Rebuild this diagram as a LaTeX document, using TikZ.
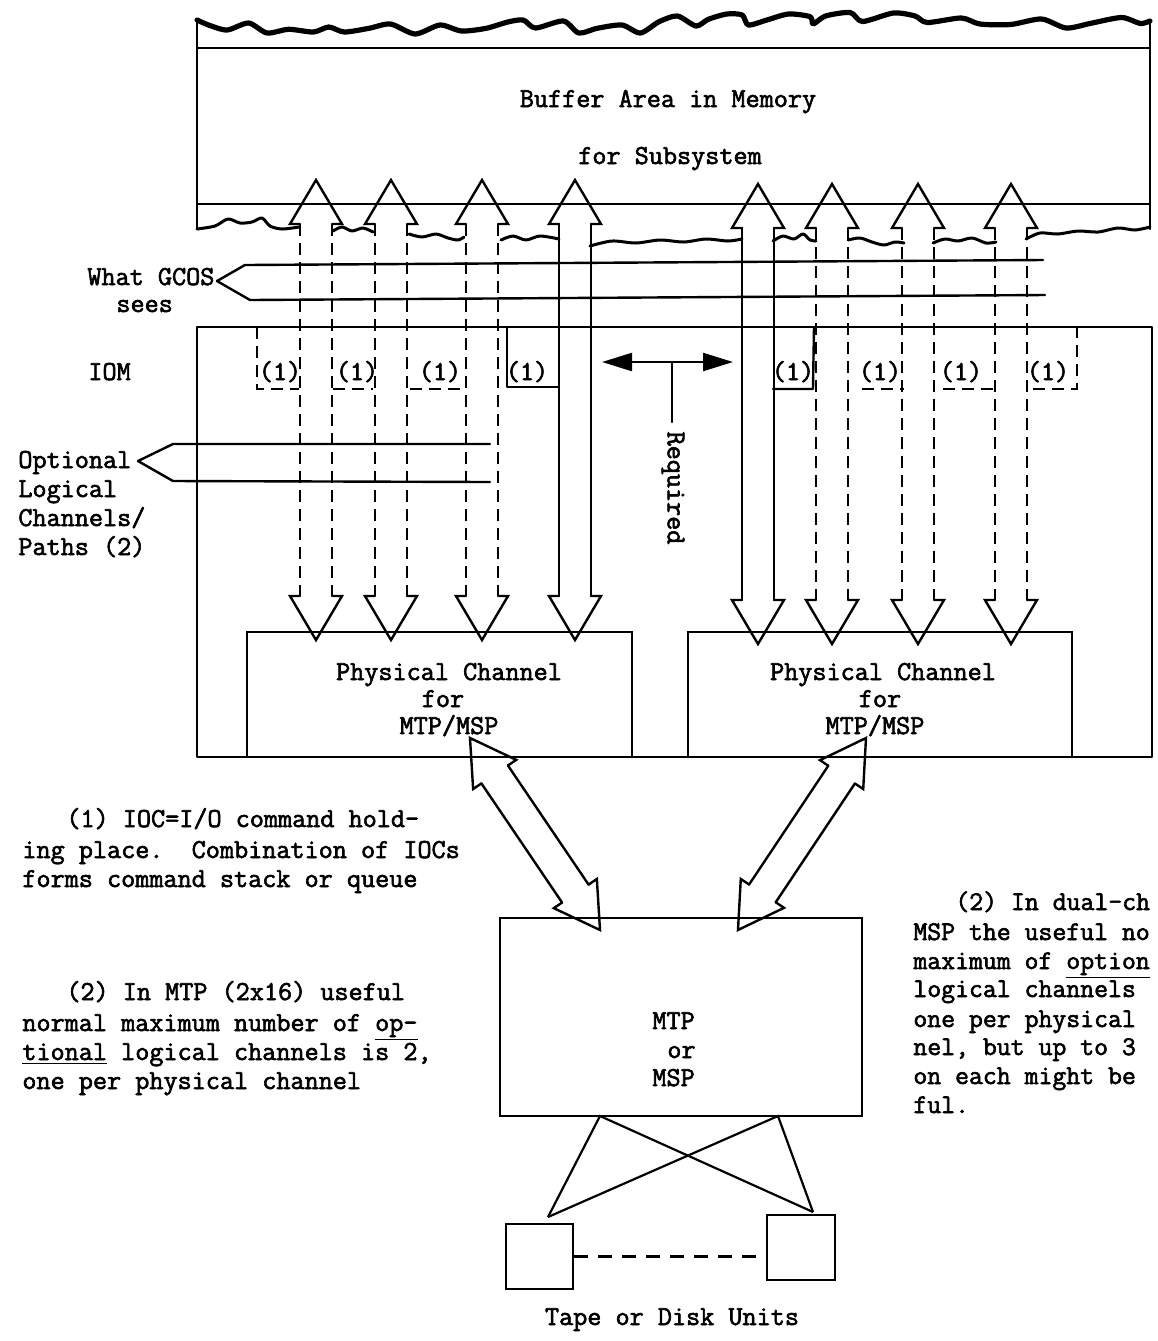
\documentclass[tikz,border=0pt]{standalone}
\usepackage{fontspec}
\usetikzlibrary{calc,arrows.meta}
\setmonofont{Latin Modern Mono}[FakeBold=2.2]
\newcommand\tw{\ttfamily}
% block double arrow: #1 start coord, #2 end coord, #3 shaft style
\newcommand\blockarrow[3]{%
  \coordinate (ha) at ($(#1)!22pt!(#2)$);
  \coordinate (hb) at ($(#2)!22pt!(#1)$);
  \coordinate (a1) at ($(ha)!13pt!90:(#2)$);
  \coordinate (a2) at ($(ha)!8pt!90:(#2)$);
  \coordinate (a3) at ($(ha)!8pt!-90:(#2)$);
  \coordinate (a4) at ($(ha)!13pt!-90:(#2)$);
  \coordinate (b1) at ($(hb)!13pt!-90:(#1)$);
  \coordinate (b2) at ($(hb)!8pt!-90:(#1)$);
  \coordinate (b3) at ($(hb)!8pt!90:(#1)$);
  \coordinate (b4) at ($(hb)!13pt!90:(#1)$);
  \draw[ln, line join=miter] (a2)--(a1)--(#1)--(a4)--(a3);
  \draw[ln, line join=miter] (b2)--(b1)--(#2)--(b4)--(b3);
  \draw[#3] (a2)--(b2) (a3)--(b3);
}
\begin{document}
\begin{tikzpicture}[x=0.5pt,y=-0.5pt,
  ln/.style={line width=1.2pt, line cap=round, line join=round},
  dsh/.style={line width=1.2pt, dash pattern=on 6pt off 3.5pt},
  txt/.style={font=\tw\fontsize{13.7}{14}\selectfont\frenchspacing, inner sep=0pt, anchor=base west},
  ctxt/.style={txt, anchor=base},
  rtxt/.style={txt, font=\tw\fontsize{13.5}{14}\selectfont\frenchspacing},
  box/.style={draw, line width=1.2pt, inner sep=0pt, rectangle}]
\useasboundingbox (0,0) rectangle (1158,1341);
\fill[white] (0,0) rectangle (1158,1341);
\clip (0,0) rectangle (1158,1341);

% ---------------- memory strip ----------------
\draw[line width=2.6pt, line cap=round, line join=round] plot[smooth, tension=0.45] coordinates {
 (197,20) (208.5,25) (227,30) (248.6,23) (267,33) (288.7,29.3) (313.4,32) (328.8,27)
 (344.3,32) (369,28.3) (390.5,24) (415.2,34) (440,25) (461.5,31) (486.2,28.3) (507.8,22)
 (523.2,20) (535.5,28) (563.3,21) (578.8,33) (597.2,28.3) (621.9,25) (640.4,33)
 (659,21.7) (677.4,16) (696,26) (708.3,19.3) (726.8,14) (742.2,15) (748.4,25) (766.9,20)
 (788.5,14) (810.1,16.7) (813.2,24) (825.5,16) (850.2,12.5) (862.5,21.5) (893.4,13) (915,16)
 (927.3,22.5) (961.3,18) (979.8,24) (1010.6,24.5) (1041.5,19) (1066.1,28) (1090.8,23.3)
 (1121.7,17.5) (1140.2,23.5) (1150,21)};
\draw[ln] (197,20) -- (197,229);
\draw[ln] (1150,20) -- (1150,229);
\draw[ln] (197,48) -- (1150,48);
\draw[ln] (197,204) -- (1150,204);
\begin{scope}[line width=1.5pt, line cap=round, line join=round]
\draw plot[smooth, tension=0.5] coordinates {(197,229) (215,226) (228,219) (240,223) (252,222) (262,218) (270,226) (282,229) (299,227)};
\draw plot[smooth, tension=0.5] coordinates {(333,231) (342,227) (352,231) (363,228) (373,232)};
\draw plot[smooth, tension=0.5] coordinates {(409,234) (422,237) (436,234) (448,238) (458,240) (464,237)};
\draw plot[smooth, tension=0.5] coordinates {(501,240) (513,236) (526,240) (540,236) (559,239)};
\draw plot[smooth, tension=0.5] coordinates {(590,246) (612,241) (636,243) (660,240) (684,242) (706,239) (728,241) (742,239)};
\draw plot[smooth, tension=0.5] coordinates {(773,241) (783,236) (794,239) (803,234) (810,240) (816,241)};
\draw plot[smooth, tension=0.5] coordinates {(848,240) (860,238) (872,242) (884,245) (895,242) (904,243)};
\draw plot[smooth, tension=0.5] coordinates {(933,243) (945,239) (958,241) (972,238) (986,243) (996,242)};
\draw plot[smooth, tension=0.5] coordinates {(1026,239) (1040,233) (1058,234) (1078,231) (1098,232) (1118,228) (1135,230) (1150,227)};
\end{scope}
\node[ctxt] (mem1) at (668,107) {Buffer Area in Memory};
\node[ctxt] (mem2) at (670,164) {for Subsystem};

% ---------------- IOM ----------------
\coordinate (iomtl) at (197,327);
\coordinate (iombr) at (1152,757);
\draw[ln] (iomtl) rectangle (iombr);
\node[txt] (iom) at (88,380) {IOM};

% physical channel boxes
\node[box, minimum width=192.5pt, minimum height=62.5pt] (pc1) at (439.5,694.5) {};
\node[box, minimum width=192pt, minimum height=62.5pt] (pc2) at (880,694.5) {};
\node[ctxt] (pc1a) at (449,680) {Physical Channel};
\node[ctxt] (pc1b) at (443,707) {for};
\node[ctxt] (pc1c) at (449,734) {MTP/MSP};
\node[ctxt] (pc2a) at (883,680) {Physical Channel};
\node[ctxt] (pc2b) at (880,707) {for};
\node[ctxt] (pc2c) at (875,734) {MTP/MSP};

% (1) command holding places
\draw[dsh] (257,327) -- (257,389) -- (299,389);
\draw[dsh] (333,389) -- (373,389);
\draw[dsh] (410,389) -- (464,389);
\draw[ln] (507,327) -- (507,387) -- (559,387);
\draw[ln] (773,389) -- (813,389) -- (814,327);
\draw[dsh] (862,389) -- (904,389);
\draw[dsh] (943,389) -- (996,389);
\draw[dsh] (1033,389) -- (1077,389) -- (1077,327);
\node[ctxt] (c1) at (280,380) {(1)};
\node[ctxt] (c2) at (357,380) {(1)};
\node[ctxt] (c3) at (440,380) {(1)};
\node[ctxt] (c4) at (527,380) {(1)};
\node[ctxt] (c5) at (793,380) {(1)};
\node[ctxt] (c6) at (880,380) {(1)};
\node[ctxt] (c7) at (961,380) {(1)};
\node[ctxt] (c8) at (1048,380) {(1)};

% vertical block arrows
\foreach \cx/\ty/\by/\st [count=\i] in {316/180/640/dsh, 391/180/640/dsh, 482/180/640/dsh, 575/180/640/ln,
  758/184/644/ln, 832/184/644/dsh, 918/184/644/dsh, 1011/184/644/dsh} {
  \coordinate (vt\i) at (\cx,\ty);
  \coordinate (vb\i) at (\cx,\by);
  \blockarrow{vt\i}{vb\i}{\st}
}

% what GCOS sees bracket
\draw[ln] (1043,260) -- (245,265) -- (217,281) -- (250,300) -- (1045,295);
\node[txt] (gc1) at (87,285) {What GCOS};
\node[txt] (gc2) at (116,312) {sees};

% optional logical channels bracket
\draw[ln] (490,444) -- (173,444) -- (138,461) -- (173,481) -- (490,482);
\node[txt] (op1) at (18,468) {Optional};
\node[txt] (op2) at (18,497) {Logical};
\node[txt] (op3) at (18,526) {Channels/};
\node[txt] (op4) at (18,555) {Paths (2)};

% required
\coordinate (rl) at (602,362);
\coordinate (rr) at (733,362);
\coordinate (rm) at (672,362);
\coordinate (rd) at (672,422);
\draw[ln, {Triangle[length=15pt,width=9pt]}-{Triangle[length=15pt,width=9pt]}] (rl) -- (rr);
\draw[ln] (rm) -- (rd);
\node[txt, rotate=-90, anchor=center] (req) at (673,488) {Required};

% ---------------- lower part ----------------
\node[box, minimum width=181pt, minimum height=99pt] (mtp) at (681,1017) {};
\node[txt] (m1) at (652,1029) {MTP};
\node[txt] (m2) at (667,1058) {or};
\node[txt] (m3) at (652,1086) {MSP};

\coordinate (dl1) at (470,738);
\coordinate (dl2) at (600,930);
\coordinate (dr1) at (866,738);
\coordinate (dr2) at (738,930);
\blockarrow{dl1}{dl2}{ln}
\blockarrow{dr1}{dr2}{ln}

\node[box, minimum width=33.5pt, minimum height=32.5pt] (sq1) at (539.5,1256.5) {};
\node[box, minimum width=34pt, minimum height=32.5pt] (sq2) at (801,1247.5) {};
\coordinate (ma) at (600,1116);
\coordinate (mb) at (778,1116);
\coordinate (s1t) at (548,1217);
\coordinate (s2t) at (813,1212);
\draw[line width=1.1pt] (s1t) -- (ma) -- (s2t);
\draw[line width=1.1pt] (s1t) -- (mb) -- (s2t);
\draw[line width=1.1pt, dash pattern=on 7pt off 5pt] (sq1.east) -- (sq1.east -| sq2.west);
\node[ctxt] (tape) at (672,1325) {Tape or Disk Units};

% notes
\node[txt] (n1a) at (66,827) {(1) IOC=I/O command hold-};
\node[txt] (n1b) at (22,858) {ing place.~~Combination of IOCs};
\node[txt] (n1c) at (22,887) {forms command stack or queue};
\node[txt] (n2a) at (66,1000) {(2) In MTP (2x16) useful};
\node[txt] (n2b) at (22,1031) {normal maximum number of \underline{op-}};
\node[txt] (n2c) at (22,1060) {\underline{tional} logical channels is 2,};
\node[txt] (n2d) at (22,1089) {one per physical channel};
\node[rtxt] (n3a) at (955,910) {(2) In dual-ch};
\node[rtxt] (n3b) at (913,940) {MSP the useful no};
\node[rtxt] (n3c) at (913,969) {maximum of \underline{option}};
\node[rtxt] (n3d) at (913,997) {logical channels};
\node[rtxt] (n3e) at (913,1027) {one per physical};
\node[rtxt] (n3f) at (913,1055) {nel, but up to 3};
\node[rtxt] (n3g) at (913,1084) {on each might be};
\node[rtxt] (n3h) at (913,1113) {ful.};
\end{tikzpicture}
\end{document}
